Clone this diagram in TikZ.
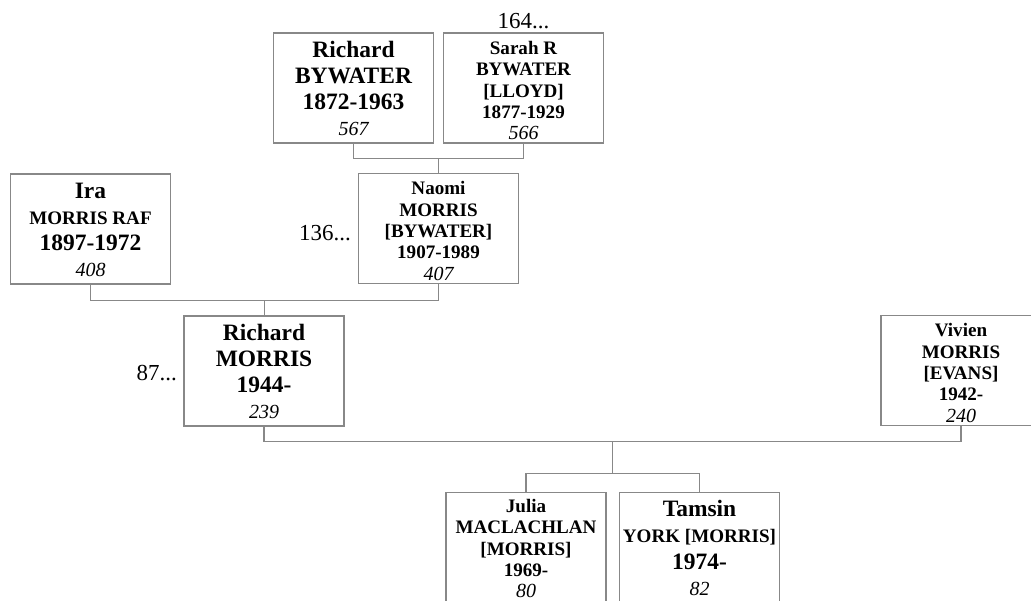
\documentclass[tikz,border=0pt]{standalone}
\usepackage{fontspec}
\setmainfont{Liberation Serif}
\usetikzlibrary{calc}
\definecolor{linegray}{RGB}{136,136,136}
\newcommand\pbig[1]{{\fontsize{17.6pt}{\pitch}\selectfont\bfseries #1}}
\newcommand\psmall[1]{{\fontsize{14.3pt}{\pitch}\selectfont\bfseries #1}}
\newcommand\pnum[1]{{\fontsize{15pt}{\pitch}\selectfont\itshape #1}}
\newcommand\bigtop{\rule{0pt}{15.75pt}}
\newcommand\bigbot{\rule[-3pt]{0pt}{0pt}}
\newcommand\smtop{\rule{0pt}{15.15pt}}
\newcommand\smbot{\rule[-1.5pt]{0pt}{0pt}}
\tikzset{
  person/.style={draw=linegray, line width=1pt, minimum width=120pt, minimum height=82.5pt,
    inner sep=0pt, align=center, fill=white},
  bigbox/.style={person, font={\def\pitch{19.7pt}\fontsize{17.6pt}{19.7pt}\selectfont\lineskiplimit=-100pt\relax}},
  smallbox/.style={person, font={\def\pitch{16pt}\fontsize{14.3pt}{16pt}\selectfont\lineskiplimit=-100pt\relax}},
  link/.style={draw=linegray, line width=1pt},
  ref/.style={font=\fontsize{17.2pt}{20pt}\selectfont, inner sep=0pt}
}
\begin{document}
\begin{tikzpicture}[x=0.75pt,y=-0.75pt]
\useasboundingbox (0,0) rectangle (1031,600);
\clip (0,0) rectangle (1031,600);

\node[bigbox] (rb) at (353.5,88)
  {\pbig{\bigtop Richard}\\\pbig{BYWATER}\\\pbig{1872-1963}\\\pnum{567\bigbot}};
\node[smallbox] (sb) at (523.5,88)
  {\psmall{\smtop Sarah R}\\\psmall{BYWATER}\\\psmall{[LLOYD]}\\\psmall{1877-1929}\\\pnum{566\smbot}};
\node[bigbox] (ira) at (90.5,229)
  {\pbig{\bigtop Ira}\\\psmall{MORRIS RAF}\\\pbig{1897-1972}\\\pnum{408\bigbot}};
\node[smallbox] (naomi) at (438.5,228.5)
  {\psmall{\smtop Naomi}\\\psmall{MORRIS}\\\psmall{[BYWATER]}\\\psmall{1907-1989}\\\pnum{407\smbot}};
\node[bigbox] (rm) at (264,371)
  {\pbig{\bigtop Richard}\\\pbig{MORRIS}\\\pbig{1944-}\\\pnum{239\bigbot}};
\node[smallbox] (viv) at (961,370.5)
  {\psmall{\smtop Vivien}\\\psmall{MORRIS}\\\psmall{[EVANS]}\\\psmall{1942-}\\\pnum{240\smbot}};
\node[smallbox] (julia) at (526,547.5)
  {\psmall{\smtop Julia}\\\psmall{MACLACHLAN}\\\psmall{[MORRIS]}\\\psmall{1969-}\\\pnum{80\rule[-3.5pt]{0pt}{0pt}}};
\node[bigbox] (tamsin) at (699.5,547.5)
  {\pbig{\bigtop Tamsin}\\\psmall{YORK [MORRIS]}\\\pbig{1974-}\\\pnum{82\bigbot}};

\node[ref, anchor=base] (l164) at (523.5,28) {164...};
\node[ref, anchor=base east] (l136) at (351,240) {136...};
\node[ref, anchor=base east] (l87) at (177,380) {87...};

% Bywater couple -> Naomi
\draw[link] (rb.south) -- ++(0,15) -| (sb.south);
\coordinate (m1) at ($(rb.south)!0.5!(sb.south)+(0,15)$);
\draw[link] (m1) -- (m1 |- naomi.north);

% Ira + Naomi -> Richard Morris
\draw[link] (ira.south) -- ++(0,16) -| (naomi.south);
\coordinate (m2) at ($(ira.south)!0.5!(naomi.south)+(0,16)$);
\draw[link] (m2) -- (m2 |- rm.north);

% Richard + Vivien -> children
\draw[link] (rm.south) -- ++(0,15) -| (viv.south);
\coordinate (m3) at ($(rm.south)!0.5!(viv.south)+(0,15)$);
\draw[link] (julia.north) -- ++(0,-18.5) -| (tamsin.north);
\coordinate (m4) at ($(julia.north)!0.5!(tamsin.north)+(0,-18.5)$);
\draw[link] (m3) -- (m3 |- m4);
\end{tikzpicture}
\end{document}
